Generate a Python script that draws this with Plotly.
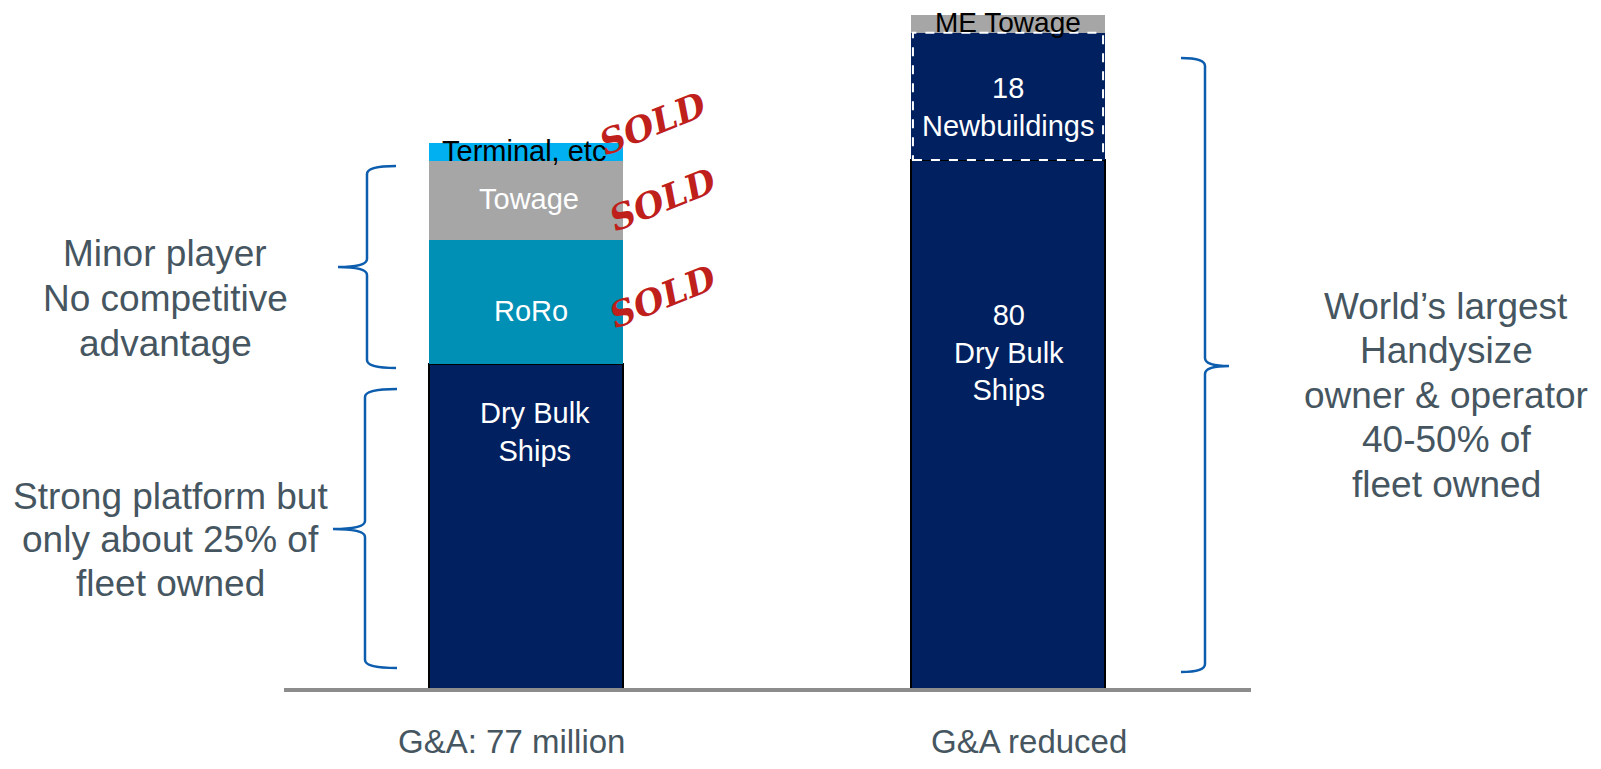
import plotly.graph_objects as go

# ---------------- data ----------------
categories = ["G&A: 77 million", "G&A reduced"]
dry_bulk = [49.2, 80.0]
roro = [18.7, None]
newbuildings = [None, 19.2]
towage = [11.9, 2.7]
terminal = [2.7, None]

segment_labels_bar1 = ["Dry Bulk<br>Ships", "RoRo", "Towage", "Terminal, etc"]
segment_labels_bar2 = ["80<br>Dry Bulk<br>Ships", "18<br>Newbuildings", "ME Towage"]
left_notes = [["Minor player", "No competitive", "advantage"],
              ["Strong platform but", "only about 25% of", "fleet owned"]]
right_note = ["World’s largest", "Handysize", "owner & operator", "40-50% of", "fleet owned"]
sold_text = "SOLD"

# ---------------- layout helpers (screen pixel -> data) ----------------
OFF = 8                         # default page body margin
W, H = 1601 - 2 * OFF, 769 - 2 * OFF
X0, XS = 526.0, 482.0          # screen pixel of bar 1 centre, pixels per category step
Y0, YS = 690.0, 6.625          # screen pixel of baseline, pixels per unit


def xd(p):
    return (p - X0) / XS


def yd(p):
    return (Y0 - p) / YS


xpos = list(range(len(categories)))
bar_w = 194 / XS

NAVY = "#002060"
TEAL = "#008FB5"
GRAY = "#A6A6A6"
LIGHT = "#00B0F0"
TXT = "#465661"
BLUE = "#0C5DAE"
RED = "#C0201B"
FONT = "Liberation Sans, Arial, sans-serif"

fig = go.Figure()
fig.add_bar(x=xpos, y=dry_bulk, width=bar_w, marker=dict(color=NAVY, line=dict(color="black", width=1.5)),
            name="Dry Bulk Ships")
fig.add_bar(x=xpos, y=roro, width=bar_w, marker=dict(color=TEAL, line=dict(width=0)), name="RoRo")
fig.add_bar(x=xpos, y=newbuildings, width=bar_w, marker=dict(color=NAVY, line=dict(width=0)), name="Newbuildings")
fig.add_bar(x=xpos, y=towage, width=bar_w, marker=dict(color=GRAY, line=dict(width=0)), name="Towage")
fig.add_bar(x=xpos, y=terminal, width=bar_w, marker=dict(color=LIGHT, line=dict(width=0)), name="Terminal, etc")

shapes = []
# dashed white border around newbuildings segment (from data)
nb_base = dry_bulk[1]
shapes.append(dict(type="rect", xref="x", yref="y",
                   x0=xpos[1] - bar_w / 2 + 0.004, x1=xpos[1] + bar_w / 2 - 0.004,
                   y0=nb_base, y1=nb_base + newbuildings[1],
                   line=dict(color="white", width=2, dash="dash"), fillcolor="rgba(0,0,0,0)"))
# baseline
shapes.append(dict(type="line", xref="x", yref="y", x0=xd(284), x1=xd(1251), y0=0, y1=0,
                   line=dict(color="#8C8C8C", width=4), layer="above"))


def brace(xe, xv, xt, top, bot, tip, r=8):
    path = (f"M {xd(xe)},{yd(top)} "
            f"Q {xd(xv)},{yd(top)} {xd(xv)},{yd(top + r)} "
            f"L {xd(xv)},{yd(tip - r)} "
            f"Q {xd(xv)},{yd(tip)} {xd(xt)},{yd(tip)} "
            f"Q {xd(xv)},{yd(tip)} {xd(xv)},{yd(tip + r)} "
            f"L {xd(xv)},{yd(bot - r)} "
            f"Q {xd(xv)},{yd(bot)} {xd(xe)},{yd(bot)}")
    return dict(type="path", xref="x", yref="y", path=path, line=dict(color=BLUE, width=2.5))


shapes.append(brace(396, 367, 338, 166, 368, 267))
shapes.append(brace(397, 365, 333, 389, 668, 529))
shapes.append(brace(1181, 1205, 1229, 58, 672, 366))

ann = []


def label(text, px, py, size, color, **kw):
    ann.append(dict(text=text, x=xd(px), y=yd(py), xref="x", yref="y", showarrow=False,
                    xanchor="center", yanchor="middle",
                    font=dict(family=kw.pop("family", FONT), size=size, color=color), **kw))


def block(lines, px, py_first, step, size, color):
    for i, t in enumerate(lines):
        label(t, px, py_first + i * step, size, color)


# segment labels bar 1
label(segment_labels_bar1[0], 535, 432, 29, "white")
label(segment_labels_bar1[1], 531, 311, 29, "white")
label(segment_labels_bar1[2], 529, 199, 29, "white")
label(segment_labels_bar1[3], 524, 151, 29, "black")
# segment labels bar 2
label(segment_labels_bar2[0], 1009, 352, 29, "white")
label(segment_labels_bar2[1], 1008, 107, 29, "white")
label(segment_labels_bar2[2], 1008, 22, 28, "black")

# side notes (one annotation per line for exact line spacing)
block(left_notes[0], 165, 253, 45, 37, TXT)
block(left_notes[1], 170, 496, 43.5, 37, TXT)
block(right_note, 1446, 306, 44.5, 37, TXT)

# category labels
label(categories[0], 511, 741, 33, TXT, borderpad=0)
label(categories[1], 1029, 741, 33, TXT, borderpad=0)

# SOLD stamps
for (px, py) in [(652, 123), (662, 199), (662, 296)]:
    label(f"<b><i>{sold_text}</i></b>", px, py, 35, RED, family="DejaVu Serif, serif", textangle=-22)

fig.update_layout(
    barmode="stack",
    width=W, height=H,
    margin=dict(l=0, r=0, t=0, b=0, pad=0),
    paper_bgcolor="white", plot_bgcolor="white",
    showlegend=False,
    xaxis=dict(range=[xd(OFF), xd(OFF + W)], visible=False, fixedrange=True),
    yaxis=dict(range=[yd(OFF + H), yd(OFF)], visible=False, fixedrange=True),
    shapes=shapes, annotations=ann,
)

fig.write_html("out.html")
